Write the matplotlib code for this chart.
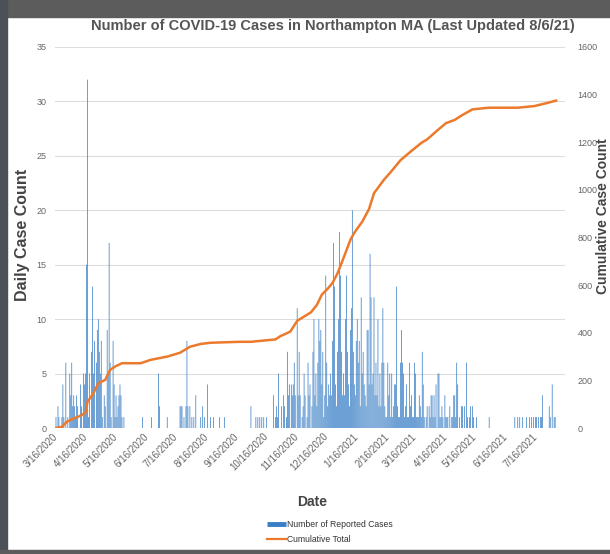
import matplotlib
matplotlib.use("Agg")
import matplotlib.pyplot as plt  # noqa: E402
from matplotlib.lines import Line2D  # noqa: E402
from matplotlib.patches import Rectangle  # noqa: E402
from matplotlib.ticker import FuncFormatter  # noqa: E402
import matplotlib.dates as mdates  # noqa: E402
import numpy as np  # noqa: E402
import pandas as pd  # noqa: E402

START = "2020-03-16"

# daily reported cases, one list per calendar month (first list starts 3/16/2020)
cases_2020 = [
    [1, 0, 2, 1, 0, 0, 1, 4, 1, 0, 6, 0, 1, 0, 5, 3],                                   # Mar 16-31
    [6, 2, 3, 2, 1, 3, 2, 0, 0, 4, 2, 0, 5, 4, 5, 15, 32, 1, 5, 0, 7, 13, 5, 8, 0, 6, 9, 10, 7, 5],  # Apr
    [8, 1, 0, 3, 2, 0, 9, 5, 17, 6, 1, 0, 8, 4, 1, 3, 1, 2, 3, 4, 3, 1, 0, 1, 0, 0, 0, 0, 0, 0, 0],  # May
    [0, 0, 0, 0, 0, 0, 0, 0, 0, 0, 0, 1, 0, 0, 0, 0, 0, 0, 0, 0, 1, 0, 0, 0, 0, 0, 0, 5, 2, 0],     # Jun
    [0, 0, 0, 0, 0, 0, 1, 0, 0, 0, 0, 0, 0, 0, 0, 0, 0, 0, 0, 2, 2, 2, 0, 1, 0, 2, 8, 2, 0, 2, 0],  # Jul
    [1, 0, 1, 0, 3, 0, 0, 0, 0, 1, 0, 2, 0, 1, 0, 0, 4, 0, 0, 1, 0, 0, 1, 0, 0, 0, 0, 0, 1, 0, 0],  # Aug
    [0, 0, 1, 0, 0, 0, 0, 0, 0, 0, 0, 0, 0, 0, 0, 0, 0, 0, 0, 0, 0, 0, 0, 0, 0, 0, 0, 0, 0, 2],     # Sep
    [0, 0, 0, 0, 1, 0, 1, 0, 1, 0, 1, 0, 1, 0, 0, 1, 0, 0, 0, 0, 0, 0, 3, 0, 1, 2, 1, 5, 0, 0, 2],  # Oct
    [0, 3, 2, 0, 1, 7, 3, 4, 0, 4, 3, 4, 6, 3, 0, 11, 3, 7, 3, 0, 1, 2, 5, 3, 0, 1, 6, 3, 4, 0],    # Nov
    [2, 7, 10, 3, 5, 2, 6, 10, 8, 9, 4, 7, 1, 3, 14, 6, 2, 4, 3, 5, 3, 8, 17, 13, 4, 2, 7, 10, 18, 14, 7],  # Dec
]
cases_2021 = [
    [3, 5, 3, 10, 14, 7, 4, 2, 9, 11, 20, 7, 4, 3, 8, 10, 6, 8, 2, 12, 5, 7, 4, 3, 2, 9, 9, 4, 16, 12, 4],  # Jan
    [5, 12, 3, 6, 3, 10, 2, 5, 2, 6, 11, 6, 2, 1, 1, 6, 3, 5, 1, 5, 1, 2, 4, 4, 13, 2, 1, 1],       # Feb
    [6, 9, 6, 5, 1, 2, 4, 1, 1, 6, 2, 3, 1, 1, 6, 5, 1, 1, 1, 3, 2, 1, 7, 4, 1, 0, 1, 2, 0, 2, 1],  # Mar
    [3, 3, 1, 3, 1, 4, 0, 5, 5, 1, 1, 2, 1, 0, 3, 1, 1, 1, 0, 2, 0, 1, 1, 3, 3, 1, 6, 4, 0, 1],     # Apr
    [0, 2, 2, 0, 2, 0, 6, 1, 0, 1, 2, 0, 2, 1, 0, 0, 1, 0, 0, 0, 0, 0, 0, 0, 0, 0, 0, 0, 0, 1, 0],  # May
    [0, 0, 0, 0, 0, 0, 0, 0, 0, 0, 0, 0, 0, 0, 0, 0, 0, 0, 0, 0, 0, 0, 0, 0, 1, 0, 0, 1, 0, 1],     # Jun
    [0, 0, 1, 0, 0, 0, 1, 0, 0, 1, 0, 1, 0, 1, 0, 1, 1, 0, 1, 0, 1, 1, 3, 0, 0, 0, 0, 0, 0, 2, 1],  # Jul
    [0, 4, 0, 1, 1, 0],                                                                   # Aug 1-6
]

# cumulative total
cum_dates = [
    "2020-03-16", "2020-03-22", "2020-03-27", "2020-04-03", "2020-04-09", "2020-04-15",
    "2020-04-17", "2020-04-23", "2020-04-28", "2020-05-05", "2020-05-10", "2020-05-15",
    "2020-05-22", "2020-06-10", "2020-06-20", "2020-07-07", "2020-07-20", "2020-07-30",
    "2020-08-10", "2020-08-20", "2020-09-19", "2020-09-30", "2020-10-25", "2020-10-30",
    "2020-11-04", "2020-11-09", "2020-11-16", "2020-11-30", "2020-12-06", "2020-12-11",
    "2020-12-17", "2020-12-22", "2020-12-27", "2020-12-31", "2021-01-04", "2021-01-09",
    "2021-01-13", "2021-01-21", "2021-01-28", "2021-02-02", "2021-02-12", "2021-02-19",
    "2021-03-01", "2021-03-11", "2021-03-22", "2021-03-28", "2021-04-08", "2021-04-16",
    "2021-04-25", "2021-05-03", "2021-05-13", "2021-05-29", "2021-06-28", "2021-07-15",
    "2021-07-27", "2021-08-06",
]
cum_vals = [
    0, 5, 26, 40, 50, 64,
    110, 146, 188, 202, 244, 258,
    272, 272, 286, 300, 316, 341,
    353, 358, 362, 362, 372, 386,
    395, 405, 450, 486, 517, 560,
    585, 610, 650, 692, 735, 790,
    820, 866, 920, 986, 1042, 1075,
    1125, 1160, 1197, 1212, 1252, 1280,
    1294, 1315, 1338, 1345, 1345, 1352,
    1364, 1375,
]

left_ticks = [0, 5, 10, 15, 20, 25, 30, 35]
right_ticks = [0, 200, 400, 600, 800, 1000, 1200, 1400, 1600]

BLUE = "#3a7fc6"
ORANGE = "#ec7a2c"
W, H = 610, 554

plt.rcParams["font.family"] = ["Liberation Sans", "DejaVu Sans"]

daily = np.concatenate([np.array(m) for m in cases_2020 + cases_2021])
days = pd.date_range(START, periods=len(daily), freq="D")
cum_x = pd.to_datetime(cum_dates)

fig = plt.figure(figsize=(W / 100, H / 100), dpi=100)
# screenshot frame
fig.patches.append(Rectangle((0, 1 - 17 / H), 1, 17 / H, transform=fig.transFigure,
                             color="#5c5c5c", zorder=0))
fig.patches.append(Rectangle((0, 0), 7 / W, 1, transform=fig.transFigure,
                             color="#4c5157", zorder=0))
fig.patches.append(Rectangle((0, 0), 1, 4 / H, transform=fig.transFigure,
                             color="#5c5c5c", zorder=0))

ax = fig.add_axes([55 / W, 126 / H, 510 / W, 381 / H])
bars = ax.bar(days, daily, width=0.75, color=BLUE, linewidth=0)
for b in bars:
    b.set_snap(False)
ax.set_ylim(0, 35)
ax.set_yticks(left_ticks)
ax.yaxis.grid(True, color="#dddddd", lw=0.8)
ax.set_axisbelow(True)

t0 = pd.Timestamp(START)
ax.set_xlim(t0 - pd.Timedelta(days=1), t0 + pd.Timedelta(days=517))
xt = [t0 + pd.DateOffset(months=i) for i in range(17)]
ax.set_xticks(xt)
ax.xaxis.set_major_formatter(FuncFormatter(
    lambda v, p: (lambda d: f"{d.month}/{d.day}/{d.year}")(mdates.num2date(v))))
for lab in ax.get_xticklabels():
    lab.set_rotation(45)
    lab.set_ha("right")
    lab.set_va("center")
    lab.set_rotation_mode("anchor")

ax2 = ax.twinx()
ax2.plot(cum_x, cum_vals, color=ORANGE, lw=1.8, solid_joinstyle="round")
ax2.set_ylim(0, 1600)
ax2.set_yticks(right_ticks)

for a in (ax, ax2):
    for s in a.spines.values():
        s.set_visible(False)
    a.tick_params(length=0, labelsize=6.5, labelcolor="#666666")
ax.tick_params(axis="x", labelsize=7, pad=5)
ax.tick_params(axis="y", pad=6)
ax2.tick_params(axis="y", pad=9)

fig.text(333 / W, 1 - 26 / H, "Number of COVID-19 Cases in Northampton MA (Last Updated 8/6/21)",
         ha="center", va="center", fontsize=10.5, fontweight="bold", color="#555555")
fig.text(23 / W, 1 - 235 / H, "Daily Case Count", rotation=90, ha="center", va="center",
         fontsize=11.5, fontweight="bold", color="#444444")
fig.text(603 / W, 1 - 216 / H, "Cumulative Case Count", rotation=90, ha="center", va="center",
         fontsize=10, fontweight="bold", color="#444444")
fig.text(312 / W, 1 - 502 / H, "Date", ha="center", va="center",
         fontsize=10, fontweight="bold", color="#444444")

handles = [Line2D([], [], color=BLUE, lw=3.5, solid_capstyle="butt"),
           Line2D([], [], color=ORANGE, lw=1.6)]
fig.legend(handles, ["Number of Reported Cases", "Cumulative Total"], loc="center",
           bbox_to_anchor=(330 / W, 1 - 532 / H), frameon=False, fontsize=6.2,
           handlelength=2.2, handletextpad=0.2, labelspacing=0.6, labelcolor="#333333")

fig.savefig("out.png", dpi=100)
